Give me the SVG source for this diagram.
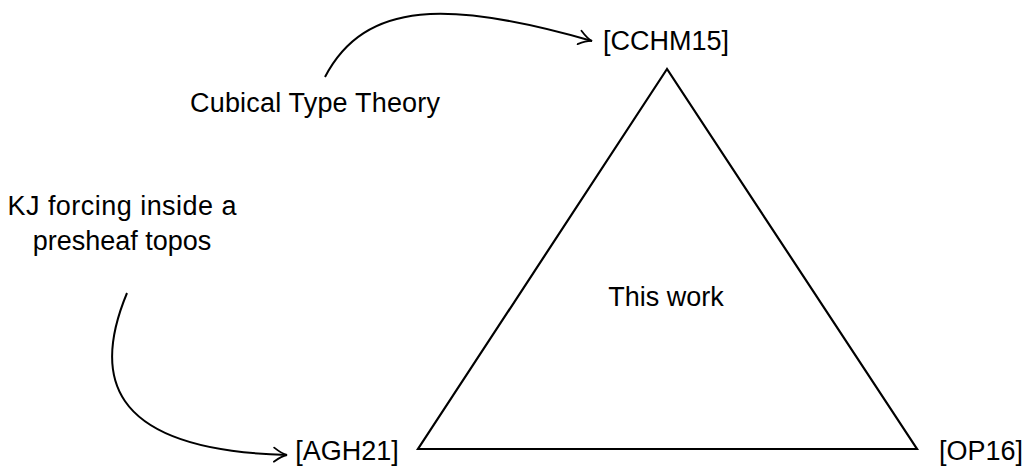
<svg xmlns="http://www.w3.org/2000/svg" width="1027" height="467" viewBox="0 0 1027 467">
<style>
text{font-family:"Liberation Sans",Arial,sans-serif;font-size:27px;fill:#000}
.c{fill:none;stroke:#000;stroke-width:2}
</style>
<defs>
<marker id="ar" viewBox="-14 -9 16 18" markerWidth="16" markerHeight="18" refX="0" refY="0" orient="auto" markerUnits="userSpaceOnUse">
<path d="M -13 -7 Q -5 -1 0 0 Q -5 1 -13 7" fill="none" stroke="#000" stroke-width="1.8" stroke-linecap="round"/>
</marker>
</defs>
<rect width="1027" height="467" fill="#fff"/>
<g id="triangle">
<polygon points="667,69 418,449 917,449" fill="none" stroke="#000" stroke-width="2.2" stroke-linejoin="miter"/>
<text x="666" y="306" text-anchor="middle">This work</text>
</g>
<g id="cchm15"><text x="666" y="50" text-anchor="middle">[CCHM15]</text></g>
<g id="agh21"><text x="347" y="460" text-anchor="middle">[AGH21]</text></g>
<g id="op16"><text x="981" y="460" text-anchor="middle">[OP16]</text></g>
<g id="ctt"><text x="315" y="112" text-anchor="middle" textLength="250">Cubical Type Theory</text></g>
<g id="kj"><text x="122" y="215" text-anchor="middle" textLength="229">KJ forcing inside a</text><text x="122" y="250" text-anchor="middle">presheaf topos</text></g>
<g id="connectors">
<path class="c" d="M 325 77 C 365 0, 450 0, 592 41" marker-end="url(#ar)"/>
<path class="c" d="M 127 293 C 95 370, 100 450, 287 455" marker-end="url(#ar)"/>
</g>
</svg>
